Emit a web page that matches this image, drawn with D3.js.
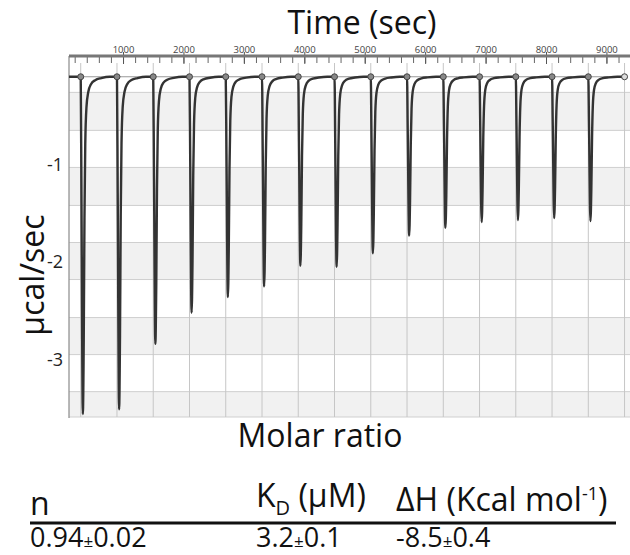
<!DOCTYPE html>
<html>
<head>
<meta charset="utf-8">
<script src="https://cdn.jsdelivr.net/npm/d3@7"></script>
<style>
    body { margin: 0; background: #fff; }
    svg { display: block; font-family: 'Open Sans', sans-serif; }
</style>
</head>
<body>
<svg id="chart" width="630" height="555"></svg>
<script>
// injections (sec) and the minimum of each peak (µcal/sec)
const injectionTimes = [300, 900, 1500, 2100, 2700, 3300, 3900, 4500, 5100, 5700, 6300, 6900, 7500, 8100, 8700];
const endTime = 9300;
const peakMinima = [-3.56, -3.51, -2.84, -2.52, -2.36, -2.25, -2.04, -2.05, -1.91, -1.73, -1.65, -1.59, -1.57, -1.55, -1.58];
const baselineValue = -0.10;

// shape of one peak: seconds after injection, fraction of depth
const shapeDt = [0, 12, 35, 50, 62, 75, 95, 125, 170, 240, 340, 480];
const shapeFrac = [0, 0.35, 1, 0.78, 0.42, 0.2, 0.09, 0.045, 0.022, 0.01, 0.004, 0];

const timeTicks = [1000, 2000, 3000, 4000, 5000, 6000, 7000, 8000, 9000];
const yTicks = [-1, -2, -3];
const gridY = [-0.26, -0.65, -1.03, -1.42, -1.80, -2.18, -2.57, -2.95, -3.33];

const tableValues = ['0.94±0.02', '3.2±0.1', '-8.5±0.4'];

const svg = d3.select('#chart');
const W = 630, H = 555;

const x = d3.scaleLinear().domain([106, 9390]).range([69, 630]);
const y = d3.scaleLinear().domain([0.113, -3.59]).range([56, 417]);

svg.append('rect').attr('width', W).attr('height', H).style('fill', '#fff');

// shaded bands
const bandEdges = gridY.concat([y.domain()[1]]);
for (let i = 0; i < bandEdges.length - 1; i += 2) {
    svg.append('rect')
        .attr('x', x.range()[0])
        .attr('y', y(bandEdges[i]))
        .attr('width', x.range()[1] - x.range()[0])
        .attr('height', y(bandEdges[i + 1]) - y(bandEdges[i]))
        .style('fill', '#f1f1f1');
}

// horizontal grid
svg.append('g').selectAll('line')
    .data(gridY.concat([y.domain()[1]]))
    .join('line')
    .attr('x1', x.range()[0]).attr('x2', x.range()[1])
    .attr('y1', d => y(d)).attr('y2', d => y(d))
    .style('stroke', '#cfcfcf').style('stroke-width', 1);

// vertical grid at each injection
svg.append('g').selectAll('line')
    .data(injectionTimes.concat([endTime]))
    .join('line')
    .attr('x1', d => x(d)).attr('x2', d => x(d))
    .attr('y1', 63).attr('y2', y.range()[1])
    .style('stroke', '#c6c6c6').style('stroke-width', 1);

// left frame
svg.append('line')
    .attr('x1', 69).attr('x2', 69)
    .attr('y1', y.range()[0]).attr('y2', y.range()[1] + 1)
    .style('stroke', '#8a8a8a').style('stroke-width', 1.2);

// top time axis
const minorAxis = d3.axisBottom(x).tickValues(d3.range(200, 9400, 200)).tickSize(7).tickFormat('');
const gMinor = svg.append('g').attr('transform', 'translate(0,56)').call(minorAxis);
gMinor.select('.domain').remove();
gMinor.selectAll('line').style('stroke', '#666');

const majorAxis = d3.axisTop(x).tickValues(timeTicks).tickSize(3).tickPadding(0).tickFormat(d3.format('d'));
const gMajor = svg.append('g').attr('transform', 'translate(0,56)').call(majorAxis);
gMajor.select('.domain').remove();
gMajor.selectAll('line').style('stroke', '#555').attr('y2', -4);
gMajor.selectAll('text')
    .style('font-family', "'Open Sans', sans-serif")
    .style('font-size', '9.5px')
    .style('fill', '#444');
gMajor.selectAll('.tick').append('line').attr('y1', 0).attr('y2', 8).style('stroke', '#555');

svg.append('rect')
    .attr('x', 69).attr('y', 54.5)
    .attr('width', W - 69).attr('height', 3)
    .style('fill', '#777');

// baseline
svg.append('line')
    .attr('x1', x(x.domain()[0])).attr('x2', x(endTime))
    .attr('y1', y(baselineValue)).attr('y2', y(baselineValue))
    .style('stroke', '#999').style('stroke-width', 1);

// thermogram
const pts = [[x.domain()[0], baselineValue]];
injectionTimes.forEach((t0, i) => {
    shapeDt.forEach((dt, j) => {
        pts.push([t0 + dt, baselineValue + (peakMinima[i] - baselineValue) * shapeFrac[j]]);
    });
});
pts.push([endTime, baselineValue]);

const line = d3.line()
    .x(d => x(d[0]))
    .y(d => y(d[1]))
    .curve(d3.curveMonotoneX);

svg.append('path')
    .datum(pts)
    .attr('d', line)
    .style('fill', 'none')
    .style('stroke', '#333')
    .style('stroke-width', 2.4)
    .style('stroke-linejoin', 'round');

// injection markers
svg.append('g').selectAll('circle')
    .data(injectionTimes.concat([endTime]))
    .join('circle')
    .attr('cx', d => x(d))
    .attr('cy', y(baselineValue))
    .attr('r', 3)
    .style('fill', d => d === endTime ? '#ddd' : '#888')
    .style('stroke', '#444')
    .style('stroke-width', 1);

// y tick labels
svg.append('g').selectAll('text')
    .data(yTicks)
    .join('text')
    .attr('x', 63)
    .attr('y', d => y(d))
    .attr('dy', '0.36em')
    .attr('text-anchor', 'end')
    .style('font-size', '18px')
    .style('fill', '#222')
    .text(d => d);

// titles
svg.append('text')
    .attr('x', 362).attr('y', 34)
    .attr('text-anchor', 'middle')
    .style('font-size', '32px')
    .style('fill', '#111')
    .text('Time (sec)');

svg.append('text')
    .attr('x', 320).attr('y', 447)
    .attr('text-anchor', 'middle')
    .style('font-size', '32px')
    .style('fill', '#111')
    .text('Molar ratio');

svg.append('text')
    .attr('transform', 'translate(44,275) rotate(-90)')
    .attr('text-anchor', 'middle')
    .style('font-size', '32px')
    .style('fill', '#111')
    .text('μcal/sec');

// results table
const col = [30, 256, 396];
const hs = 32, vs = 27;
svg.append('text').attr('x', col[0]).attr('y', 515).style('font-size', hs + 'px').style('fill', '#111').text('n');

const kd = svg.append('text').attr('x', col[1]).attr('y', 507).style('font-size', hs + 'px').style('fill', '#111');
kd.append('tspan').text('K');
kd.append('tspan').attr('dy', 8).style('font-size', '20px').text('D');
kd.append('tspan').attr('dy', -8).text(' (μM)');

const dh = svg.append('text').attr('x', col[2]).attr('y', 511).style('font-size', hs + 'px').style('fill', '#111');
dh.append('tspan').text('ΔH (Kcal mol');
dh.append('tspan').attr('dy', -11).style('font-size', '18px').text('-1');
dh.append('tspan').attr('dy', 11).text(')');

svg.append('line')
    .attr('x1', col[0]).attr('x2', 616)
    .attr('y1', 523).attr('y2', 523)
    .style('stroke', '#111').style('stroke-width', 3);

tableValues.forEach((v, i) => {
    const parts = v.split('±');
    const t = svg.append('text').attr('x', col[i]).attr('y', 547).style('font-size', vs + 'px').style('fill', '#111');
    t.append('tspan').text(parts[0]);
    t.append('tspan').style('font-size', '17px').text('±');
    t.append('tspan').text(parts[1]);
});
</script>
</body>
</html>
